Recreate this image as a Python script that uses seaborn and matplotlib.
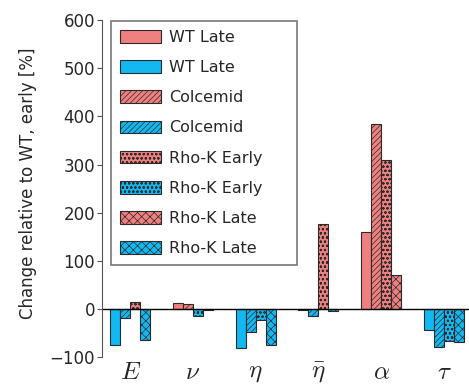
"""
Change of fitted parameters relative to WT early (bar chart)
"""
import matplotlib
matplotlib.use('Agg')
import matplotlib.pyplot as plt
import matplotlib.patches as mpatches
import seaborn as sns
import pandas as pd

sns.set_style("ticks")
plt.rcParams['font.family'] = ['DejaVu Sans']
plt.rcParams['mathtext.fontset'] = 'cm'
plt.rcParams['hatch.linewidth'] = 0.5

# data
params = [r'$E$', r'$\nu$', r'$\eta$', r'$\bar{\eta}$', r'$\alpha$', r'$\tau$']
conditions = ['WT Late', 'Colcemid', 'Rho-K Early', 'Rho-K Late']
wt_late = [-76, 12, -81, -2, 159, -43]
colcemid = [-19, 10, -48, -15, 385, -79]
rhok_early = [15, -15, -24, 176, 310, -66]
rhok_late = [-65, -3, -75, -4, 70, -69]

hatches = ['', '//////', 'oooo', 'xxxx']
red = '#F08080'
blue = '#12B8F2'

df = pd.DataFrame({
    'param': params * 4,
    'condition': [c for c in conditions for _ in params],
    'value': wt_late + colcemid + rhok_early + rhok_late,
})

fig = plt.figure(figsize=(4.69, 3.87), dpi=100)
ax = fig.add_axes([0.2175, 0.0775, 0.7825, 0.8705])

sns.barplot(data=df, x='param', y='value', hue='condition', hue_order=conditions,
            order=params, width=0.64, gap=0, dodge=True, legend=False, ax=ax,
            errorbar=None)

# colour by sign, hatch by condition
n = len(params)
for i, bar in enumerate(ax.patches[:4 * n]):
    cond = i // n
    val = bar.get_height()
    bar.set_facecolor(red if val > 0 else blue)
    bar.set_edgecolor('#2a2a2a')
    bar.set_linewidth(0.8)
    bar.set_hatch(hatches[cond])

ax.axhline(0, color='black', lw=1)
ax.set_ylim(-100, 600)
ax.set_xlim(-0.447, 5.40)
ax.set_yticks(range(-100, 601, 100))
ax.set_xlabel('')
ax.set_ylabel('Change relative to WT, early [%]', fontsize=12)
ax.yaxis.set_label_coords(-0.177, 0.515)
ax.tick_params(axis='y', labelsize=12, direction='out', length=3.5, pad=1.5,
               color='#555555')
ax.tick_params(axis='x', length=0, labelsize=18, pad=2)

for s in ['top', 'right', 'bottom']:
    ax.spines[s].set_visible(False)
ax.spines['left'].set_color('#555555')

handles = []
labels = []
for c, h in zip(conditions, hatches):
    for col in [red, blue]:
        handles.append(mpatches.Patch(facecolor=col, edgecolor='#2a2a2a', hatch=h, lw=0.8))
        labels.append(c)
leg = ax.legend(handles, labels, loc='upper left', mode='expand', fontsize=11.5,
                handlelength=2.6, handleheight=0.84, handletextpad=0.5,
                labelspacing=0.95, borderpad=0.55, borderaxespad=0, fancybox=False,
                bbox_to_anchor=(0.0245, 0, 0.507, 0.997))
leg.get_frame().set_edgecolor('#555555')
leg.get_frame().set_linewidth(1.2)

plt.savefig('out.png', dpi=100)
plt.close()
